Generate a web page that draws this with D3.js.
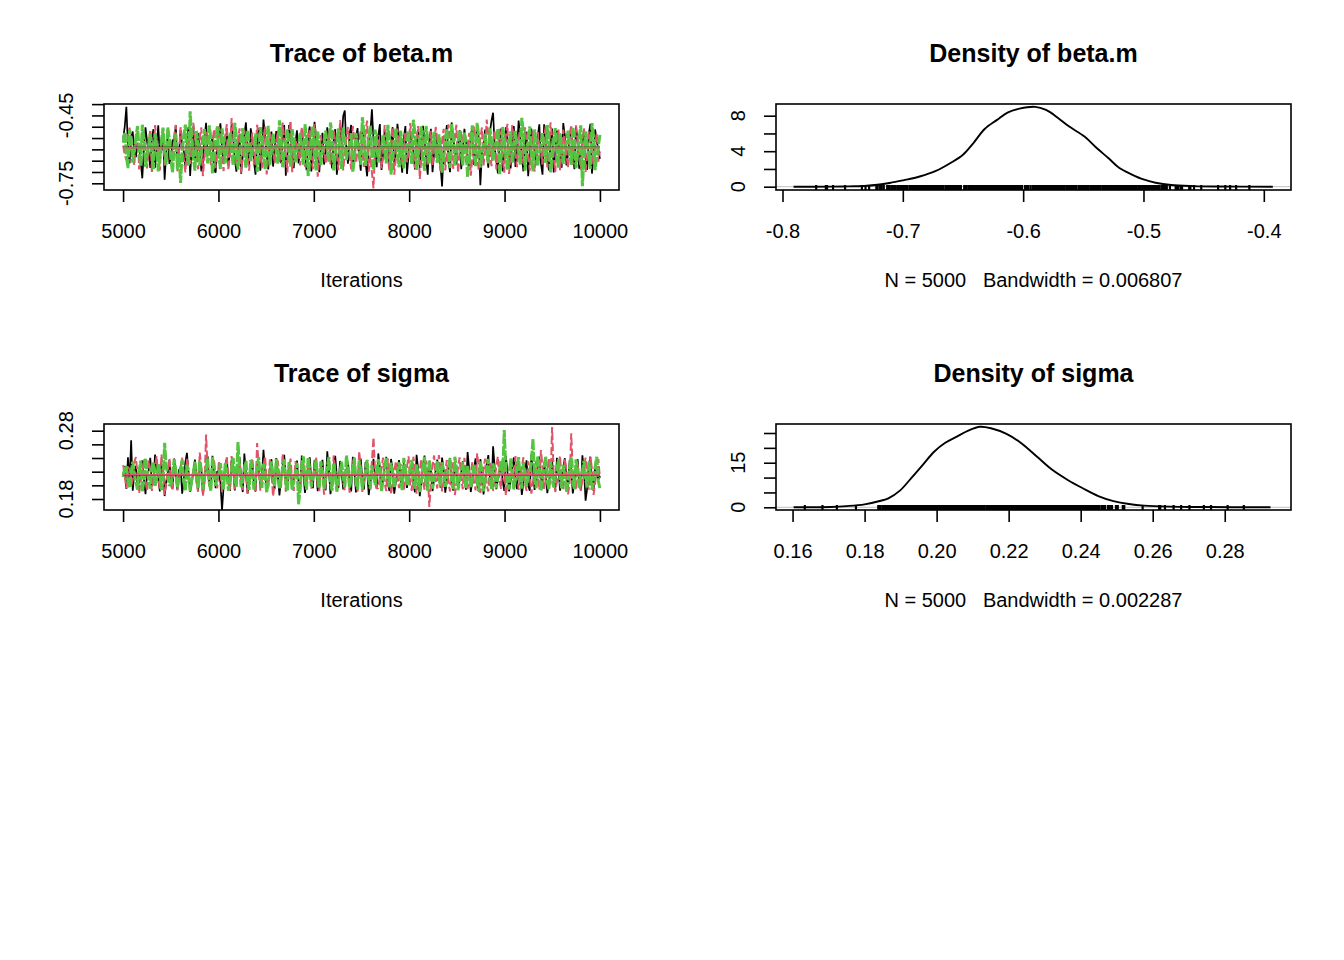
<!DOCTYPE html>
<html><head><meta charset="utf-8">
<script src="https://cdn.jsdelivr.net/npm/d3@7"></script>
<style>
body{margin:0;background:#fff}
svg{display:block}
text{font-family:"Liberation Sans",Arial,Helvetica,sans-serif;fill:#000}
</style></head>
<body><svg id="chart" width="1344" height="960"></svg>
<script>
// ---------------- data ----------------
const chainColors = ["#000000", "#DF536B", "#55C441"];
const chainDash = [null, "8,3", "10,1.5"];
const chainWidth = [1.7, 2.0, 3.0];
const iterStart = 5001, iterEnd = 10000;

const betaChain1 = [-0.553,-0.498,-0.412,-0.587,-0.662,-0.541,-0.521,-0.609,-0.634,-0.572,-0.578,-0.655,-0.728,-0.603,-0.503,-0.566,-0.617,-0.682,-0.546,-0.511,
-0.681,-0.598,-0.494,-0.627,-0.603,-0.539,-0.734,-0.612,-0.532,-0.664,-0.641,-0.557,-0.569,-0.493,-0.687,-0.621,-0.514,-0.579,-0.608,-0.676,
-0.562,-0.501,-0.718,-0.589,-0.498,-0.642,-0.633,-0.528,-0.584,-0.697,-0.659,-0.552,-0.483,-0.618,-0.624,-0.571,-0.551,-0.689,-0.703,-0.594,
-0.526,-0.485,-0.597,-0.662,-0.573,-0.518,-0.672,-0.606,-0.489,-0.547,-0.645,-0.699,-0.591,-0.534,-0.708,-0.626,-0.537,-0.481,-0.612,-0.668,
-0.507,-0.563,-0.653,-0.712,-0.564,-0.508,-0.694,-0.615,-0.468,-0.543,-0.627,-0.689,-0.582,-0.521,-0.676,-0.601,-0.519,-0.579,-0.603,-0.661,
-0.548,-0.492,-0.716,-0.628,-0.492,-0.558,-0.636,-0.683,-0.571,-0.516,-0.662,-0.607,-0.511,-0.574,-0.614,-0.692,-0.542,-0.499,-0.698,-0.619,
-0.478,-0.546,-0.643,-0.701,-0.588,-0.527,-0.667,-0.613,-0.503,-0.562,-0.621,-0.684,-0.559,-0.511,-0.712,-0.637,-0.487,-0.569,-0.452,-0.428,
-0.604,-0.663,-0.531,-0.492,-0.684,-0.618,-0.547,-0.506,-0.629,-0.694,-0.493,-0.552,-0.658,-0.719,-0.583,-0.526,-0.423,-0.561,-0.618,-0.679,
-0.539,-0.488,-0.691,-0.623,-0.514,-0.573,-0.598,-0.668,-0.567,-0.502,-0.674,-0.611,-0.487,-0.548,-0.632,-0.703,-0.553,-0.497,-0.709,-0.624,
-0.521,-0.579,-0.609,-0.689,-0.578,-0.514,-0.682,-0.597,-0.496,-0.558,-0.644,-0.712,-0.561,-0.509,-0.701,-0.618,-0.528,-0.586,-0.623,-0.671,
-0.764,-0.604,-0.548,-0.493,-0.657,-0.701,-0.481,-0.552,-0.601,-0.667,-0.572,-0.516,-0.688,-0.612,-0.509,-0.563,-0.627,-0.691,-0.543,-0.498,
-0.669,-0.603,-0.494,-0.551,-0.758,-0.622,-0.579,-0.513,-0.616,-0.681,-0.524,-0.473,-0.438,-0.589,-0.652,-0.706,-0.563,-0.508,-0.697,-0.628,
-0.502,-0.566,-0.613,-0.684,-0.551,-0.497,-0.678,-0.609,-0.473,-0.542,-0.631,-0.697,-0.586,-0.522,-0.719,-0.623,-0.508,-0.571,-0.596,-0.668,
-0.542,-0.489,-0.663,-0.712,-0.489,-0.561,-0.638,-0.693,-0.568,-0.508,-0.702,-0.614,-0.517,-0.579,-0.607,-0.681,-0.484,-0.539,-0.671,-0.622,
-0.546,-0.501,-0.624,-0.688,-0.499,-0.563,-0.686,-0.612,-0.574,-0.519,-0.628,-0.691,-0.533,-0.487,-0.707,-0.631,-0.512,-0.566,-0.598,-0.642];

const betaChain2 = [-0.583,-0.624,-0.647,-0.538,-0.504,-0.592,-0.621,-0.671,-0.552,-0.497,-0.689,-0.613,-0.518,-0.566,-0.601,-0.684,-0.574,-0.512,-0.706,-0.628,
-0.493,-0.557,-0.628,-0.693,-0.561,-0.508,-0.672,-0.604,-0.509,-0.571,-0.613,-0.679,-0.538,-0.492,-0.697,-0.619,-0.502,-0.563,-0.641,-0.702,
-0.579,-0.521,-0.664,-0.612,-0.483,-0.547,-0.622,-0.688,-0.547,-0.503,-0.718,-0.631,-0.523,-0.574,-0.604,-0.669,-0.566,-0.511,-0.683,-0.607,
-0.498,-0.552,-0.631,-0.696,-0.541,-0.489,-0.692,-0.617,-0.462,-0.531,-0.612,-0.676,-0.558,-0.507,-0.703,-0.624,-0.514,-0.569,-0.637,-0.694,
-0.584,-0.526,-0.668,-0.609,-0.491,-0.553,-0.619,-0.683,-0.553,-0.498,-0.711,-0.634,-0.527,-0.582,-0.598,-0.662,-0.572,-0.516,-0.659,-0.601,
-0.482,-0.548,-0.634,-0.702,-0.519,-0.473,-0.701,-0.622,-0.549,-0.604,-0.608,-0.671,-0.503,-0.557,-0.677,-0.613,-0.563,-0.509,-0.642,-0.687,
-0.488,-0.543,-0.721,-0.633,-0.537,-0.592,-0.602,-0.664,-0.581,-0.526,-0.666,-0.608,-0.512,-0.567,-0.623,-0.692,-0.471,-0.532,-0.693,-0.619,
-0.546,-0.501,-0.627,-0.689,-0.497,-0.556,-0.661,-0.603,-0.568,-0.514,-0.614,-0.678,-0.521,-0.473,-0.699,-0.627,-0.702,-0.772,-0.589,-0.536,
-0.542,-0.596,-0.684,-0.621,-0.493,-0.551,-0.629,-0.697,-0.557,-0.502,-0.712,-0.638,-0.508,-0.567,-0.603,-0.671,-0.577,-0.521,-0.657,-0.612,
-0.484,-0.541,-0.618,-0.683,-0.549,-0.497,-0.731,-0.642,-0.516,-0.574,-0.609,-0.668,-0.571,-0.518,-0.674,-0.603,-0.501,-0.559,-0.638,-0.697,
-0.562,-0.509,-0.693,-0.624,-0.489,-0.547,-0.624,-0.686,-0.543,-0.491,-0.704,-0.629,-0.519,-0.576,-0.597,-0.659,-0.582,-0.527,-0.716,-0.634,
-0.498,-0.553,-0.633,-0.692,-0.552,-0.503,-0.671,-0.611,-0.468,-0.536,-0.612,-0.674,-0.569,-0.514,-0.688,-0.621,-0.509,-0.567,-0.641,-0.703,
-0.531,-0.487,-0.709,-0.632,-0.492,-0.554,-0.617,-0.679,-0.561,-0.508,-0.663,-0.604,-0.503,-0.561,-0.628,-0.694,-0.578,-0.523,-0.698,-0.626,
-0.524,-0.581,-0.601,-0.667,-0.548,-0.497,-0.679,-0.613,-0.481,-0.544,-0.639,-0.701,-0.566,-0.512,-0.692,-0.618,-0.513,-0.571,-0.622,-0.683,
-0.541,-0.492,-0.668,-0.607,-0.494,-0.558,-0.632,-0.691,-0.559,-0.506,-0.701,-0.627,-0.521,-0.579,-0.611,-0.672,-0.583,-0.527,-0.654,-0.609];

const betaChain3 = [-0.571,-0.524,-0.628,-0.683,-0.512,-0.566,-0.659,-0.604,-0.548,-0.497,-0.603,-0.672,-0.491,-0.547,-0.677,-0.621,-0.582,-0.529,-0.618,-0.686,
-0.529,-0.578,-0.697,-0.631,-0.561,-0.504,-0.609,-0.668,-0.503,-0.558,-0.648,-0.703,-0.587,-0.533,-0.686,-0.619,-0.748,-0.612,-0.542,-0.491,
-0.617,-0.672,-0.432,-0.553,-0.638,-0.694,-0.519,-0.571,-0.671,-0.612,-0.568,-0.511,-0.601,-0.662,-0.494,-0.549,-0.708,-0.636,-0.553,-0.498,
-0.629,-0.687,-0.508,-0.563,-0.662,-0.608,-0.579,-0.526,-0.612,-0.671,-0.483,-0.541,-0.689,-0.624,-0.558,-0.507,-0.623,-0.681,-0.517,-0.572,
-0.652,-0.597,-0.586,-0.531,-0.699,-0.638,-0.502,-0.556,-0.631,-0.689,-0.547,-0.496,-0.668,-0.611,-0.528,-0.582,-0.604,-0.663,-0.472,-0.533,
-0.679,-0.621,-0.566,-0.512,-0.619,-0.676,-0.511,-0.568,-0.657,-0.602,-0.581,-0.527,-0.609,-0.668,-0.489,-0.546,-0.718,-0.643,-0.552,-0.497,
-0.641,-0.693,-0.521,-0.574,-0.669,-0.611,-0.573,-0.518,-0.598,-0.657,-0.481,-0.539,-0.693,-0.627,-0.562,-0.508,-0.624,-0.686,-0.504,-0.561,
-0.647,-0.592,-0.584,-0.529,-0.702,-0.641,-0.527,-0.579,-0.611,-0.668,-0.458,-0.521,-0.673,-0.614,-0.549,-0.496,-0.632,-0.691,-0.513,-0.568,
-0.658,-0.603,-0.591,-0.538,-0.603,-0.662,-0.492,-0.549,-0.711,-0.639,-0.563,-0.509,-0.621,-0.679,-0.518,-0.573,-0.684,-0.618,-0.572,-0.519,
-0.607,-0.664,-0.469,-0.527,-0.691,-0.628,-0.551,-0.498,-0.638,-0.694,-0.497,-0.553,-0.662,-0.607,-0.578,-0.523,-0.602,-0.659,-0.534,-0.588,
-0.703,-0.637,-0.561,-0.508,-0.627,-0.683,-0.488,-0.546,-0.672,-0.611,-0.569,-0.516,-0.613,-0.671,-0.523,-0.579,-0.722,-0.652,-0.548,-0.494,
-0.619,-0.676,-0.483,-0.541,-0.681,-0.617,-0.584,-0.531,-0.604,-0.662,-0.507,-0.562,-0.649,-0.596,-0.562,-0.509,-0.713,-0.641,-0.501,-0.556,
-0.632,-0.689,-0.574,-0.521,-0.661,-0.604,-0.519,-0.572,-0.608,-0.667,-0.461,-0.523,-0.694,-0.627,-0.553,-0.499,-0.641,-0.697,-0.512,-0.567,
-0.673,-0.614,-0.581,-0.528,-0.603,-0.659,-0.493,-0.551,-0.701,-0.636,-0.559,-0.506,-0.622,-0.681,-0.528,-0.583,-0.664,-0.607,-0.571,-0.517,
-0.614,-0.668,-0.502,-0.558,-0.683,-0.621,-0.547,-0.494,-0.763,-0.642,-0.521,-0.574,-0.628,-0.687,-0.484,-0.539,-0.692,-0.631,-0.588,-0.536];

const sigmaChain1 = [0.2153,0.2281,0.1947,0.2412,0.2036,0.2658,0.1921,0.2184,0.2284,0.1993,0.2047,0.2318,0.2363,0.2091,0.1872,0.2168,0.2219,0.2402,0.1986,0.2077,
0.2451,0.2213,0.2103,0.1912,0.2312,0.2264,0.1843,0.2057,0.2178,0.2369,0.2034,0.1962,0.2391,0.2142,0.1938,0.2224,0.2257,0.1879,0.2082,0.2341,
0.2476,0.2192,0.1903,0.2063,0.2197,0.2378,0.2124,0.1931,0.2341,0.2251,0.1862,0.2098,0.2253,0.2427,0.2009,0.1952,0.2432,0.2163,0.1957,0.2207,
0.2186,0.2044,0.1634,0.1988,0.2302,0.2396,0.2068,0.1919,0.2379,0.2236,0.1926,0.2117,0.2243,0.2414,0.2097,0.1902,0.2464,0.2183,0.1884,0.2041,
0.2172,0.2336,0.2018,0.1909,0.2354,0.2271,0.1973,0.2128,0.2521,0.2202,0.1907,0.2061,0.2231,0.2382,0.2059,0.1942,0.2398,0.2154,0.1853,0.2076,
0.2279,0.2447,0.2114,0.1934,0.2336,0.2242,0.1948,0.2107,0.2193,0.2361,0.2042,0.1896,0.2437,0.2179,0.1889,0.2052,0.2264,0.2409,0.2091,0.1958,
0.2368,0.2217,0.1916,0.2081,0.2207,0.2373,0.2003,0.1927,0.2498,0.2229,0.1871,0.2066,0.2289,0.2431,0.2132,0.1963,0.2357,0.2188,0.1942,0.2113,
0.2181,0.2344,0.2054,0.1911,0.2419,0.2196,0.1897,0.2072,0.2248,0.2392,0.2076,0.1939,0.2342,0.2211,0.1858,0.2031,0.2203,0.2387,0.2109,0.1947,
0.2467,0.2256,0.1931,0.2087,0.2271,0.2418,0.2028,0.1917,0.2386,0.2233,0.1879,0.2048,0.2234,0.2369,0.2102,0.1951,0.2323,0.2172,0.1962,0.2117,
0.2158,0.2329,0.2013,0.1899,0.2448,0.2241,0.1841,0.2037,0.2282,0.2436,0.2069,0.1929,0.2361,0.2203,0.1917,0.2088,0.2214,0.2377,0.2118,0.1968,
0.2406,0.2232,0.1894,0.2059,0.2262,0.2401,0.2039,0.1923,0.2327,0.2187,0.1953,0.2121,0.2189,0.2352,0.2084,0.1937,0.2487,0.2246,0.1902,0.2071,
0.2238,0.2393,0.2021,0.1912,0.2383,0.2214,0.1868,0.2049,0.2297,0.2442,0.2107,0.1961,0.2572,0.2258,0.1944,0.2093,0.2168,0.2332,0.2063,0.1918,
0.2429,0.2206,0.1913,0.2074,0.2253,0.2408,0.2088,0.1943,0.2351,0.2191,0.1859,0.2032,0.2217,0.2366,0.1998,0.1921,0.2458,0.2227,0.1934,0.2101,
0.2276,0.2421,0.2129,0.1957,0.2339,0.2182,0.1887,0.2058,0.2194,0.2363,0.2052,0.1924,0.2403,0.2236,0.1921,0.2083,0.2261,0.2397,0.2098,0.1952,
0.2372,0.2208,0.1882,0.2049,0.2232,0.2384,0.2031,0.1936,0.2441,0.2224,0.1776,0.1951,0.2287,0.2419,0.2079,0.1928,0.2309,0.2165,0.2079,0.2142];

const sigmaChain2 = [0.2297,0.2138,0.1953,0.2271,0.2238,0.1989,0.2079,0.2342,0.2414,0.2152,0.1882,0.2061,0.2193,0.2376,0.2043,0.1917,0.2368,0.2221,0.1918,0.2089,
0.2276,0.2431,0.2101,0.1938,0.2452,0.2207,0.1862,0.2041,0.2217,0.2389,0.2004,0.1923,0.2342,0.2186,0.1927,0.2098,0.2259,0.2404,0.2071,0.1946,
0.2393,0.2231,0.1897,0.2058,0.2168,0.2352,0.2032,0.1906,0.2481,0.2264,0.1849,0.2023,0.2742,0.2219,0.1983,0.2139,0.2212,0.2378,0.2108,0.1957,
0.2357,0.2198,0.1893,0.2067,0.2271,0.2413,0.2051,0.1928,0.2428,0.2243,0.1941,0.2102,0.2186,0.2347,0.2093,0.1932,0.2318,0.2169,0.1874,0.2046,
0.2249,0.2396,0.2012,0.1903,0.2618,0.2287,0.1922,0.2083,0.2293,0.2427,0.2058,0.1946,0.2379,0.2196,0.1838,0.2027,0.2203,0.2361,0.2117,0.1951,
0.2462,0.2238,0.1909,0.2078,0.2241,0.2392,0.2027,0.1919,0.2353,0.2184,0.1881,0.2052,0.2179,0.2334,0.2084,0.1937,0.2398,0.2229,0.1952,0.2113,
0.2268,0.2417,0.1997,0.1918,0.2331,0.2173,0.1863,0.2036,0.2228,0.2384,0.2103,0.1949,0.2437,0.2252,0.1931,0.2089,0.2162,0.2328,0.2049,0.1927,
0.2371,0.2207,0.1892,0.2061,0.2283,0.2432,0.2019,0.1908,0.2503,0.2257,0.1904,0.2073,0.2207,0.2368,0.2092,0.1941,0.2346,0.2702,0.2184,0.1951,
0.1961,0.2124,0.2254,0.2407,0.2038,0.1916,0.2392,0.2213,0.1871,0.2042,0.2189,0.2356,0.2113,0.1958,0.2312,0.2164,0.1928,0.2091,0.2273,0.2426,
0.2008,0.1921,0.2419,0.2238,0.1879,0.2052,0.2221,0.2388,0.2062,0.1935,0.2363,0.2197,0.1683,0.2018,0.2291,0.2437,0.2081,0.1954,0.2443,0.2246,
0.1912,0.2069,0.2198,0.2371,0.2031,0.1909,0.2339,0.2181,0.1858,0.2033,0.2262,0.2409,0.2097,0.1942,0.2402,0.2228,0.1943,0.2107,0.2177,0.2342,
0.2054,0.1926,0.2468,0.2263,0.1889,0.2046,0.2243,0.2391,0.2003,0.1911,0.2328,0.2172,0.1921,0.2087,0.2281,0.2423,0.2072,0.1948,0.2384,0.2211,
0.1853,0.2029,0.2209,0.2373,0.2112,0.1959,0.2427,0.2248,0.1934,0.2098,0.2258,0.2412,0.2029,0.1917,0.2351,0.2183,0.1877,0.2054,0.2194,0.2359,
0.2089,0.1938,0.2517,0.2272,0.1948,0.2103,0.2232,0.2394,0.2011,0.2853,0.2164,0.1902,0.2047,0.2279,0.2431,0.2063,0.1929,0.2391,0.2218,0.1869,
0.2034,0.2762,0.2192,0.2042,0.1927,0.2308,0.2149,0.1919,0.2081,0.2263,0.2407,0.2081,0.1936,0.2418,0.2241,0.1861,0.2037,0.2237,0.2384,0.2106];

const sigmaChain3 = [0.2121,0.2264,0.2278,0.2054,0.1963,0.2189,0.2347,0.2168,0.2042,0.1937,0.2209,0.2362,0.1904,0.2073,0.2398,0.2213,0.2083,0.1952,0.2262,0.2339,
0.1989,0.2102,0.2317,0.2174,0.1932,0.2068,0.2621,0.2281,0.2148,0.1993,0.2019,0.2197,0.2381,0.2226,0.1968,0.2091,0.2243,0.2374,0.2061,0.1929,
0.2302,0.2154,0.1912,0.2072,0.2188,0.2341,0.2098,0.1958,0.2359,0.2204,0.1947,0.2118,0.2257,0.2392,0.2034,0.1921,0.2417,0.2238,0.1992,0.2127,
0.2173,0.2326,0.2079,0.1943,0.2328,0.2187,0.1921,0.2067,0.2251,0.2403,0.2112,0.1976,0.2634,0.2247,0.1973,0.2119,0.2207,0.2358,0.2053,0.1934,
0.2372,0.2219,0.1938,0.2091,0.2281,0.2412,0.2089,0.1962,0.2313,0.2171,0.1893,0.2056,0.2198,0.2349,0.2128,0.1986,0.2389,0.2231,0.1958,0.2104,
0.2237,0.2381,0.2018,0.1927,0.2341,0.2192,0.1929,0.2076,0.2182,0.2331,0.1723,0.1954,0.2289,0.2426,0.2067,0.1939,0.2408,0.2243,0.1981,0.2112,
0.2219,0.2367,0.2102,0.1968,0.2352,0.2203,0.1949,0.2098,0.2268,0.2414,0.2041,0.1922,0.2322,0.2171,0.1907,0.2063,0.2191,0.2347,0.2119,0.1981,
0.2437,0.2256,0.1972,0.2108,0.2253,0.2398,0.2058,0.1943,0.2361,0.2209,0.1939,0.2087,0.2213,0.2372,0.2081,0.1953,0.2298,0.2156,0.2003,0.2146,
0.2383,0.2227,0.1918,0.2074,0.2259,0.2404,0.2109,0.1973,0.2332,0.2188,0.1962,0.2117,0.2179,0.2338,0.2048,0.1931,0.2402,0.2246,0.1993,0.2128,
0.2228,0.2371,0.2087,0.1951,0.2307,0.2163,0.1901,0.2059,0.2272,0.2418,0.2032,0.1927,0.2369,0.2212,0.1951,0.2093,0.2197,0.2353,0.2121,0.1984,
0.2338,0.2191,0.1979,0.2118,0.2249,0.2397,0.2063,0.1948,0.2419,0.2252,0.1928,0.2081,0.2192,0.2343,0.2098,0.1962,0.2287,0.2149,0.1968,0.2113,
0.2311,0.2178,0.2039,0.1919,0.2358,0.2201,0.1912,0.2066,0.2239,0.2386,0.2082,0.1947,0.2321,0.2168,0.1957,0.2102,0.2218,0.2369,0.2143,0.2808,
0.2214,0.2002,0.1941,0.2392,0.2218,0.1941,0.2076,0.2263,0.2413,0.2071,0.1953,0.2329,0.2172,0.1983,0.2127,0.2201,0.2352,0.2679,0.2114,0.1957,
0.2427,0.2249,0.1923,0.2082,0.2281,0.2423,0.2052,0.1939,0.2348,0.2192,0.1969,0.2124,0.2232,0.2381,0.2093,0.1957,0.2299,0.2152,0.1904,0.2061,
0.2261,0.2407,0.2031,0.1948,0.2379,0.2219,0.1962,0.2109,0.2209,0.2362,0.2101,0.1972,0.2342,0.2187,0.1933,0.2081,0.2272,0.2418,0.2064,0.1952];

// density curves
const betaDensX = [-0.7908,-0.76,-0.745,-0.730,-0.711,-0.699,-0.686,-0.673,-0.660,-0.650,-0.642,-0.632,-0.622,-0.613,-0.603,-0.590,-0.581,-0.571,-0.562,-0.549,-0.540,-0.529,-0.520,-0.510,-0.500,-0.490,-0.477,-0.458,-0.44,-0.3925];
const betaDensY = [0,0.01,0.04,0.10,0.42,0.74,1.15,1.75,2.7,3.6,4.8,6.5,7.5,8.35,8.8,9.0,8.65,7.75,6.8,5.65,4.5,3.2,2.1,1.4,0.82,0.45,0.19,0.07,0.02,0];
const sigmaDensX = [0.1603,0.165,0.1706,0.175,0.180,0.1845,0.1866,0.1898,0.1929,0.1961,0.1993,0.2024,0.2056,0.2088,0.2120,0.2151,0.2194,0.2236,0.2279,0.2321,0.2364,0.2406,0.2449,0.2491,0.2534,0.2576,0.2650,0.2734,0.282,0.2927];
const sigmaDensY = [0,0.03,0.1,0.4,1.0,2.2,3.0,5.6,9.75,14.2,18.7,21.7,23.8,25.8,27.1,26.6,24.7,21.5,17.0,12.6,9.2,6.4,3.8,2.1,1.1,0.56,0.22,0.1,0.03,0];

// ticks & labels
const traceXTicks = [5000,6000,7000,8000,9000,10000];
const betaTraceYTicks = [-0.40,-0.45,-0.50,-0.55,-0.60,-0.65,-0.70,-0.75];
const betaTraceYLabels = ["-0.45","-0.75"];
const sigmaTraceYTicks = [0.18,0.20,0.22,0.24,0.26,0.28];
const sigmaTraceYLabels = ["0.18","0.28"];
const betaDensXTicks = [-0.8,-0.7,-0.6,-0.5,-0.4];
const betaDensYTicks = [0,2,4,6,8];
const betaDensYLabels = ["0","4","8"];
const sigmaDensXTicks = [0.16,0.18,0.20,0.22,0.24,0.26,0.28];
const sigmaDensYTicks = [0,5,10,15,20,25];
const sigmaDensYLabels = ["0","15"];

const titles = ["Trace of beta.m","Density of beta.m","Trace of sigma","Density of sigma"];
const betaDensNote = "N = 5000   Bandwidth = 0.006807";
const sigmaDensNote = "N = 5000   Bandwidth = 0.002287";

// ---------------- drawing ----------------
const svg = d3.select("#chart");
const LW = 1.6, TICK = 12;
const hyphen = f => (d => f(d).replace("\u2212", "-"));

function addBox(g, L, T, R, B) {
  g.append("rect").attr("x", L).attr("y", T).attr("width", R - L).attr("height", B - T)
    .attr("fill", "none").attr("stroke", "#000").attr("stroke-width", LW);
}
function addTitle(g, cx, y, txt) {
  g.append("text").attr("x", cx).attr("y", y).attr("text-anchor", "middle")
    .attr("font-size", 25).attr("font-weight", "bold").text(txt);
}
function xAxis(g, x, B, ticks, fmt) {
  const ax = d3.axisBottom(x).tickValues(ticks).tickSize(TICK).tickPadding(22).tickFormat(fmt);
  const a = g.append("g").attr("transform", `translate(0,${B})`).call(ax);
  a.select(".domain").remove();
  a.selectAll(".tick line").attr("stroke", "#000").attr("stroke-width", LW);
  a.selectAll(".tick text").attr("font-size", 20).attr("fill", "#000")
    .attr("font-family", '"Liberation Sans",Arial,Helvetica,sans-serif');
}
function yAxis(g, y, L, ticks, labels, labelX) {
  const ax = d3.axisLeft(y).tickValues(ticks).tickSize(TICK).tickFormat("");
  const a = g.append("g").attr("transform", `translate(${L},0)`).call(ax);
  a.select(".domain").remove();
  a.selectAll(".tick line").attr("stroke", "#000").attr("stroke-width", LW);
  labels.forEach(s => {
    const v = +s, yy = y(v);
    g.append("text").attr("x", labelX).attr("y", yy).attr("text-anchor", "middle")
      .attr("font-size", 20).attr("transform", `rotate(-90,${labelX},${yy})`).text(s);
  });
}

function tracePanel(o) {
  const g = svg.append("g");
  const x = d3.scaleLinear().domain([4800, 10200]).range([o.L, o.R]);
  const y = d3.scaleLinear().domain(o.yDomain).range([o.B, o.T]);
  const clipId = "clip" + o.id;
  svg.append("clipPath").attr("id", clipId).append("rect")
    .attr("x", o.L).attr("y", o.T).attr("width", o.R - o.L).attr("height", o.B - o.T);
  const pg = g.append("g").attr("clip-path", `url(#${clipId})`);
  o.chains.forEach((vals, ci) => {
    const it = d3.scaleLinear().domain([0, vals.length - 1]).range([iterStart, iterEnd]);
    const line = d3.line().x((d, i) => x(it(i))).y(d => y(d));
    pg.append("path").datum(vals).attr("d", line).attr("fill", "none")
      .attr("stroke", chainColors[ci]).attr("stroke-width", chainWidth[ci])
      .attr("stroke-linejoin", "bevel")
      .attr("stroke-dasharray", chainDash[ci]);
  });
  // mean lines
  [0, 2, 1].forEach(ci => {
    const m = d3.mean(o.chains[ci]);
    pg.append("line").attr("x1", x(iterStart)).attr("x2", x(iterEnd))
      .attr("y1", y(m)).attr("y2", y(m)).attr("stroke", chainColors[ci]).attr("stroke-width", 1.2);
  });
  addBox(g, o.L, o.T, o.R, o.B);
  xAxis(g, x, o.B, traceXTicks, d3.format("d"));
  yAxis(g, y, o.L, o.yTicks, o.yLabels, o.L - 31);
  addTitle(g, (o.L + o.R) / 2, o.T - 42, o.title);
  g.append("text").attr("x", (o.L + o.R) / 2).attr("y", o.B + 97).attr("text-anchor", "middle")
    .attr("font-size", 20).text("Iterations");
}

function densPanel(o) {
  const g = svg.append("g");
  const x = d3.scaleLinear().domain(o.xDomain).range([o.L, o.R]);
  const y = d3.scaleLinear().domain(o.yDomain).range([o.B, o.T]);
  g.append("line").attr("x1", o.L).attr("x2", o.R).attr("y1", y(0)).attr("y2", y(0))
    .attr("stroke", "#BEBEBE").attr("stroke-width", 1);
  const all = [].concat(...o.chains);
  g.append("g").selectAll("line").data(all).join("line")
    .attr("x1", d => x(d)).attr("x2", d => x(d)).attr("y1", o.B).attr("y2", o.B - 5)
    .attr("stroke", "#000").attr("stroke-width", 2.2);
  const pts = o.dx.map((v, i) => [v, o.dy[i]]);
  const line = d3.line().x(d => x(d[0])).y(d => y(d[1])).curve(d3.curveCatmullRom.alpha(0.5));
  g.append("path").datum(pts).attr("d", line).attr("fill", "none")
    .attr("stroke", "#000").attr("stroke-width", 1.9);
  addBox(g, o.L, o.T, o.R, o.B);
  xAxis(g, x, o.B, o.xTicks, o.xFmt);
  yAxis(g, y, o.L, o.yTicks, o.yLabels, o.L - 31);
  addTitle(g, (o.L + o.R) / 2, o.T - 42, o.title);
  g.append("text").attr("x", (o.L + o.R) / 2).attr("y", o.B + 97).attr("text-anchor", "middle")
    .attr("font-size", 20).style("white-space", "pre").attr("xml:space", "preserve").text(o.note);
}

const C1L = 104, C1R = 619, C2L = 776, C2R = 1291;
const R1T = 104, R1B = 190, R2T = 424, R2B = 510;

tracePanel({id: 1, L: C1L, R: C1R, T: R1T, B: R1B, yDomain: [-0.7796, -0.3995],
  chains: [betaChain1, betaChain2, betaChain3], yTicks: betaTraceYTicks, yLabels: betaTraceYLabels, title: titles[0]});
densPanel({L: C2L, R: C2R, T: R1T, B: R1B, xDomain: [-0.8054, -0.3774], yDomain: [-0.372, 9.318],
  chains: [betaChain1, betaChain2, betaChain3], dx: betaDensX, dy: betaDensY,
  xTicks: betaDensXTicks, xFmt: hyphen(d3.format(".1f")), yTicks: betaDensYTicks, yLabels: betaDensYLabels,
  title: titles[1], note: betaDensNote});
tracePanel({id: 2, L: C1L, R: C1R, T: R2T, B: R2B, yDomain: [0.1639, 0.2898],
  chains: [sigmaChain1, sigmaChain2, sigmaChain3], yTicks: sigmaTraceYTicks, yLabels: sigmaTraceYLabels, title: titles[2]});
densPanel({L: C2L, R: C2R, T: R2T, B: R2B, xDomain: [0.1554, 0.2984], yDomain: [-0.91, 28.03],
  chains: [sigmaChain1, sigmaChain2, sigmaChain3], dx: sigmaDensX, dy: sigmaDensY,
  xTicks: sigmaDensXTicks, xFmt: d3.format(".2f"), yTicks: sigmaDensYTicks, yLabels: sigmaDensYLabels,
  title: titles[3], note: sigmaDensNote});
</script></body></html>
